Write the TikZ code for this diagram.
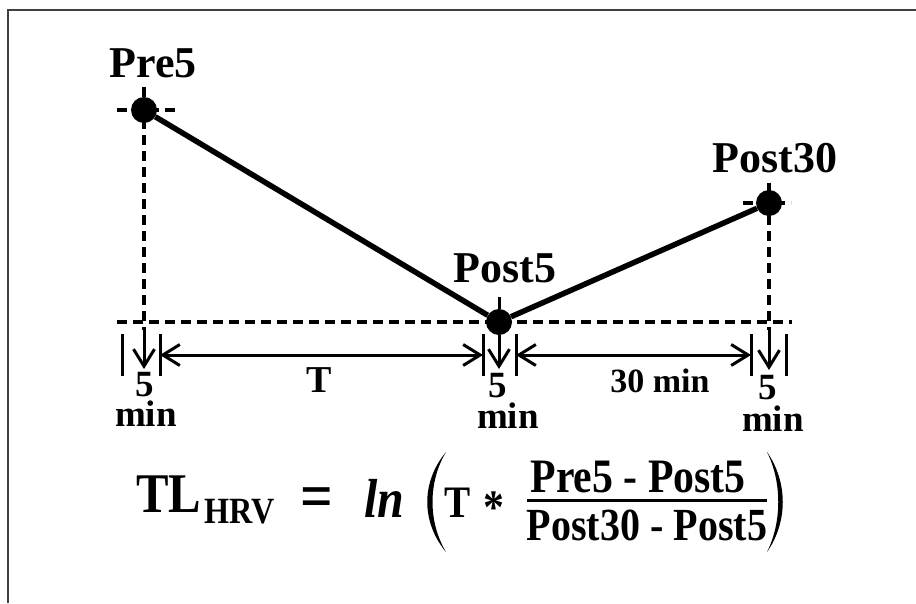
\documentclass[tikz,border=0pt]{standalone}
\usepackage{fontspec}
\setmainfont{Liberation Serif}
\newfontfamily\eqfont[FakeStretch=0.87]{Liberation Serif}
\usetikzlibrary{positioning,arrows.meta}

\begin{document}
\begin{tikzpicture}[
  x=1pt, y=-1pt,
  >={Straight Barb[length=17pt,width=21pt]},
  dot/.style={circle, fill=black, inner sep=0pt, minimum size=26pt},
  lab/.style={inner sep=0pt, anchor=base, font=\bfseries\fontsize{#1}{#1}\selectfont},
  guide/.style={line width=3.5pt, dash pattern=on 10pt off 6pt},
  bar/.style={line width=3pt},
  eq/.style={inner sep=0pt, anchor=base west, font=\eqfont\bfseries\fontsize{#1}{#1}\selectfont}
]
  \useasboundingbox (0,0) rectangle (916,603);
  \draw[line width=2pt, black!75] (8,603) |- (916,10);

  % measurement points
  \node[dot] (pre) at (144,110) {};
  \node[dot] (post) at (499,322) {};
  \node[dot] (postt) at (769,203) {};
  \node[lab=44] (prelab) at (153,77) {Pre5};
  \node[lab=44] (postlab) at (505,282) {Post5};
  \node[lab=44] (posttlab) at (775,172) {Post30};

  % guides
  \coordinate (base1) at (144,330);
  \coordinate (base2) at (499,330);
  \coordinate (base3) at (769,330);
  \draw[guide] (117,322) -- (792,322);
  \draw[guide] (117,110) -- (175,110);
  \draw[guide] (743,203) -- (791,203);
  \draw[guide] (144,87) -- (base1);
  \draw[guide] (769,183) -- (base3);
  \draw[bar] (499,297) -- (post);

  % profile
  \draw[line width=5.5pt] (pre) -- (post) -- (postt);

  % 5 min windows
  \coordinate (tip1) at (144,369);
  \coordinate (tip2) at (499,369);
  \coordinate (tip3) at (769,370);
  \draw[->, bar] (base1) -- (tip1);
  \draw[->, bar] (post) -- (tip2);
  \draw[->, bar] (base3) -- (tip3);
  \foreach \x in {122,160,483,516,751,786}
    \draw[bar] (\x,334) -- (\x,376);

  \coordinate (w1) at (160,355);
  \coordinate (w2) at (483,355);
  \coordinate (w3) at (516,355);
  \coordinate (w4) at (751,355);
  \draw[<->, bar] (w1) -- (w2);
  \draw[<->, bar] (w3) -- (w4);
  \node[lab=38] (tlab) at (319,392) {T};
  \node[lab=34] (dlab) at (660,392) {30 min};

  \node[lab=37] (five1) at (145,396) {5};
  \node[lab=37] (min1) at (146,426) {min};
  \node[lab=37] (five2) at (498,397) {5};
  \node[lab=37] (min2) at (508,428) {min};
  \node[lab=37] (five3) at (768,399) {5};
  \node[lab=37] (min3) at (773,431) {min};

  % formula
  \node[eq=56] (tl) at (136,512) {TL};
  \node[eq=37] (hrv) at (204,523) {HRV};
  \node[eq=66] (eqs) at (300,518) {=};
  \node[eq=55] (ln) at (364,517) {\itshape ln};
  \fill (446,452) .. controls (421,482) and (421,522) .. (446,552)
    .. controls (428,522) and (428,482) .. (446,452);
  \node[eq=45] (tt) at (444,517) {T};
  \node[eq=48] (star) at (483,523) {*};
  \node[eq=48, anchor=base] (num) at (638,492) {Pre5 - Post5};
  \draw[line width=3pt] (527,500) -- (767,500);
  \node[eq=46, anchor=base] (den) at (647,540) {Post30 - Post5};
  \fill (767,452) .. controls (788,482) and (788,522) .. (767,552)
    .. controls (782,522) and (782,482) .. (767,452);
\end{tikzpicture}
\end{document}
